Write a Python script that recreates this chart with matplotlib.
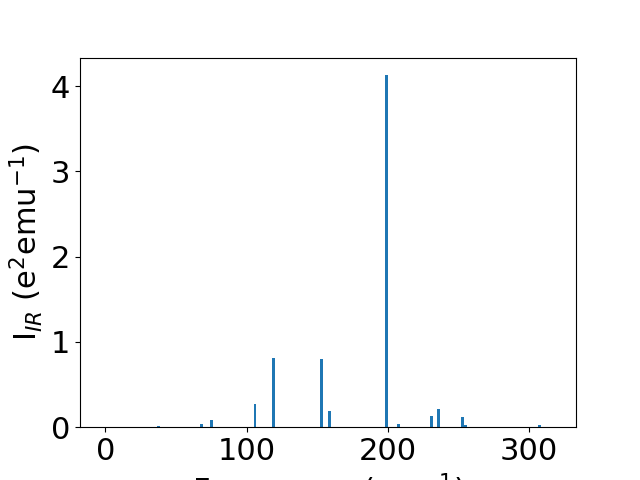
import numpy as np
import matplotlib.pyplot as plt

# frequencies (cm^-1) and IR intensities
freq = [-1.0, 37.6, 67.8, 74.9, 106.0, 118.9, 152.9, 158.6, 199.0, 207.5,
        231.0, 236.0, 253.4, 255.3, 307.5, 316.5]
intensity = [0.0, 0.015, 0.04, 0.086, 0.27, 0.81, 0.80, 0.19, 4.127, 0.04,
             0.13, 0.21, 0.115, 0.02, 0.025, 0.0]

plt.rcParams['font.size'] = 22

fig, ax = plt.subplots(figsize=(6.4, 4.8), dpi=100)
ax.bar(freq, intensity, width=2.1)
ax.set_xlabel(r'Frequency (cm$^{-1}$)')
ax.set_ylabel(r'I$_{IR}$ (e$^2$emu$^{-1}$)')

fig.savefig('out.png')
